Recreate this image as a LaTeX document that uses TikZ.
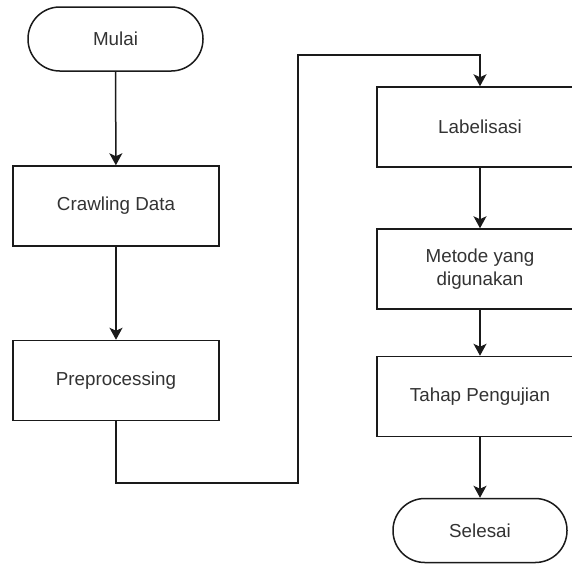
\documentclass[tikz,border=0pt]{standalone}
\usepackage{fontspec}
\setmainfont{Liberation Sans}
\usepackage{xcolor}
\usepackage{tikz}
\usetikzlibrary{positioning,arrows.meta,calc}
\definecolor{flowink}{HTML}{1A1A1A}
\definecolor{flowtext}{HTML}{333333}

\begin{document}
\begin{tikzpicture}[
  x=0.5pt,y=-0.5pt,
  font=\fontsize{9.4}{11.5}\selectfont,
  proc/.style={draw=flowink,fill=white,line width=0.75pt,align=center,text=flowtext,
               minimum width=103pt,minimum height=40pt,inner sep=2pt},
  term/.style={draw=flowink,fill=white,line width=0.75pt,align=center,text=flowtext,
               minimum width=87.5pt,minimum height=32pt,rounded corners=15.9pt},
  arr/.style={-{Stealth[length=6pt,width=6.5pt,inset=1.5pt]},flowink,line width=0.75pt}
]
\useasboundingbox (0,0) rectangle (572,563);
\clip (0,0) rectangle (572,563);

\node[term] (mulai) at (115.5,39) {Mulai};
\node[proc] (crawl) at (116,206) {Crawling Data};
\node[proc] (prep) at (116,380.5) {Preprocessing};

\node[proc] (label) at (480,127) {Labelisasi};
\node[proc] (metode) at (480,269) {Metode yang\\ digunakan};
\node[proc] (tahap) at (480,396.5) {Tahap Pengujian};
\node[term,minimum width=87pt] (selesai) at (480,530.5) {Selesai};

\coordinate (bawah) at (298,483);
\coordinate (atas) at (298,55);

\draw[arr] (mulai) -- (crawl);
\draw[arr] (crawl) -- (prep);
\draw[arr] (prep.south) |- (bawah) -- (atas) -| (label.north);
\draw[arr] (label) -- (metode);
\draw[arr] (metode) -- (tahap);
\draw[arr] (tahap) -- (selesai);
\end{tikzpicture}
\end{document}
